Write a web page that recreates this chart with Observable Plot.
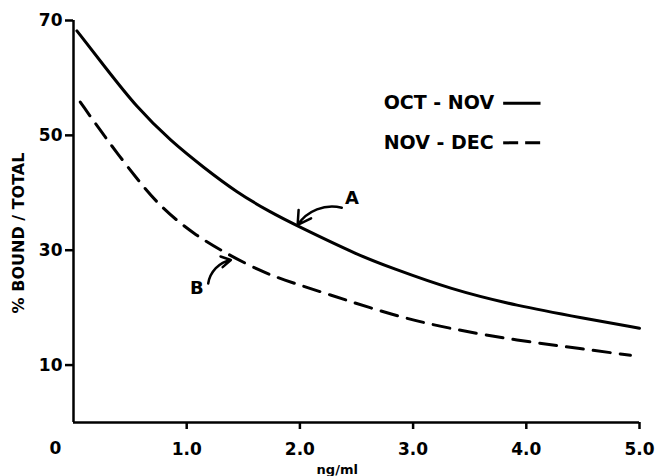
<!DOCTYPE html>
<html>
<head>
<meta charset="utf-8">
<script src="https://cdn.jsdelivr.net/npm/d3@7"></script>
<script src="https://cdn.jsdelivr.net/npm/@observablehq/plot@0.6"></script>
<style>
  html, body { margin: 0; padding: 0; background: #fff; }
  #chart svg { display: block; }
</style>
</head>
<body>
<div id="chart"></div>
<script>
// ---- data ----
const xTicks = [1, 2, 3, 4, 5];
const yTicks = [10, 30, 50, 70];

// Curve A : OCT - NOV (solid)
const concA = [0.03, 0.27, 0.56, 0.86, 1.15, 1.44, 1.74, 1.97, 2.53, 2.80, 3.33, 3.92, 4.50, 5.00];
const boundA = [68.2, 62.1, 54.8, 49.0, 44.4, 40.1, 36.6, 34.3, 29.0, 27.0, 23.2, 20.3, 18.2, 16.4];

// Curve B : NOV - DEC (dashed)
const concB = [0.06, 0.27, 0.56, 0.77, 1.06, 1.36, 1.65, 1.83, 2.24, 2.83, 3.33, 3.92, 4.50, 4.92];
const boundB = [55.8, 49.9, 42.4, 37.5, 32.8, 29.3, 26.4, 25.0, 22.4, 18.6, 16.3, 14.3, 12.8, 11.7];

const legendLabels = ["OCT - NOV", "NOV - DEC"];
const curveLabels = ["A", "B"];
const xLabel = "ng/ml";
const yLabel = "% BOUND / TOTAL";

// ---- build tables ----
const dataA = concA.map((x, i) => ({x, y: boundA[i]}));
const dataB = concB.map((x, i) => ({x, y: boundB[i]}));

const legend = [
  {label: legendLabels[0], x: 2.74, x1: 3.80, x2: 4.13, y: 55.6},
  {label: legendLabels[1], x: 2.74, x1: 3.80, x2: 4.13, y: 48.7}
];
const annot = [
  {label: curveLabels[0], x: 2.46, y: 39.1, x1: 2.37, y1: 37.4, x2: 1.98, y2: 34.4},
  {label: curveLabels[1], x: 1.09, y: 23.4, x1: 1.19, y1: 24.2, x2: 1.39, y2: 28.3}
];

const font = "'DejaVu Sans', sans-serif";

const chart = Plot.plot({
  width: 655,
  height: 476,
  marginLeft: 73,
  marginRight: 16,
  marginTop: 20,
  marginBottom: 54,
  style: {fontFamily: font, fontWeight: "bold", color: "#000", background: "#fff"},
  x: {domain: [0, 5]},
  y: {domain: [0, 70]},
  marks: [
    Plot.axisY({ticks: yTicks, tickSize: 8, tickPadding: 3, fontSize: 17, strokeWidth: 2.5, label: null}),
    Plot.axisX({ticks: xTicks, tickFormat: d3.format(".1f"), tickSize: 7, tickPadding: 13, fontSize: 17, strokeWidth: 2.5, label: null}),
    Plot.ruleX([0], {y1: 0, y2: 70, strokeWidth: 2.5}),
    Plot.ruleY([0], {x1: 0, x2: 5, strokeWidth: 2.5}),
    Plot.text(["0"], {x: 0, y: 0, text: d => d, dx: -18, dy: 26, fontSize: 17}),
    Plot.text([xLabel], {x: 2.33, y: 0, text: d => d, dy: 47, fontSize: 13}),
    Plot.text([yLabel], {frameAnchor: "left", y: 33, text: d => d, rotate: -90, textAnchor: "middle", dx: -55, fontSize: 16}),
    Plot.line(dataA, {x: "x", y: "y", curve: "basis", strokeWidth: 3}),
    Plot.line(dataB, {x: "x", y: "y", curve: "basis", strokeWidth: 3, strokeDasharray: "17,10"}),
    Plot.text(legend, {x: "x", y: "y", text: "label", textAnchor: "start", fontSize: 19}),
    Plot.ruleY([legend[0]], {x1: "x1", x2: "x2", y: "y", strokeWidth: 3}),
    Plot.ruleY([legend[1]], {x1: "x1", x2: "x2", y: "y", strokeWidth: 3, strokeDasharray: "15,7"}),
    Plot.text(annot, {x: "x", y: "y", text: "label", fontSize: 18}),
    Plot.arrow([annot[0]], {x1: "x1", y1: "y1", x2: "x2", y2: "y2", bend: -35, strokeWidth: 2.5, headLength: 9}),
    Plot.arrow([annot[1]], {x1: "x1", y1: "y1", x2: "x2", y2: "y2", bend: 35, strokeWidth: 2.5, headLength: 9})
  ]
});
document.getElementById("chart").appendChild(chart);
</script>
</body>
</html>
